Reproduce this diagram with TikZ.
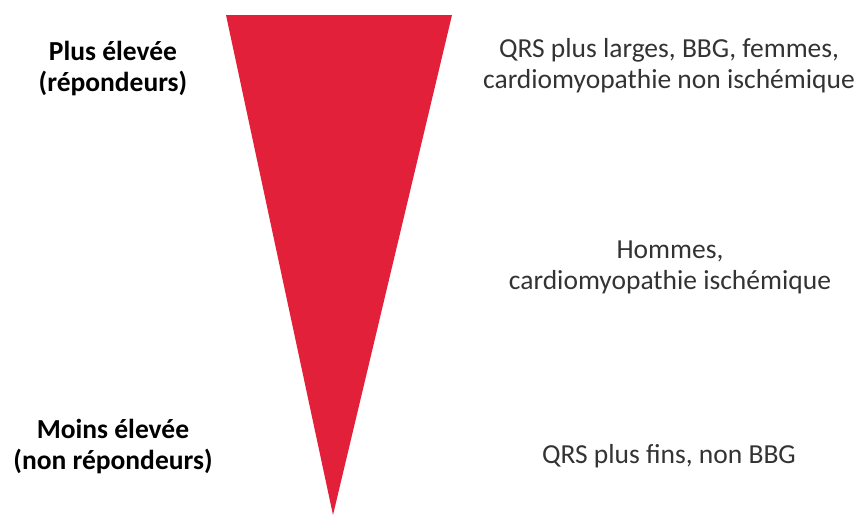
\documentclass[tikz,border=0pt]{standalone}
\usepackage{fontspec}
\setmainfont{Carlito}
\usepackage{xcolor}
\definecolor{coneRed}{RGB}{227,32,57}
\tikzset{
  sidelbl/.style={align=center, inner sep=0pt, font=\fontsize{27.5}{31}\selectfont\bfseries},
  critlbl/.style={align=center, inner sep=0pt, font=\fontsize{27.5}{31}\selectfont, text=black!80},
}

\begin{document}
\begin{tikzpicture}[x=1pt, y=-1pt]
  \useasboundingbox (0,0) rectangle (862,515);
  % cone
  \coordinate (topL) at (226,15);
  \coordinate (topR) at (452,15);
  \coordinate (tip) at (333,515);
  \fill[coneRed] (topL) -- (topR) -- (tip) -- cycle;
  % left side
  \node[sidelbl] (high) at (113,69) {Plus élevée\\(répondeurs)};
  \node[sidelbl] (low) at (113,447) {Moins élevée\\(non répondeurs)};
  % right side
  \node[critlbl] (crithigh) at (669,66) {QRS plus larges, BBG, femmes,\\cardiomyopathie non ischémique};
  \node[critlbl] (critmid) at (670,267) {Hommes,\\cardiomyopathie ischémique};
  \node[critlbl, anchor=base] (critlow) at (669,463) {QRS plus fins, non BBG};
\end{tikzpicture}
\end{document}
